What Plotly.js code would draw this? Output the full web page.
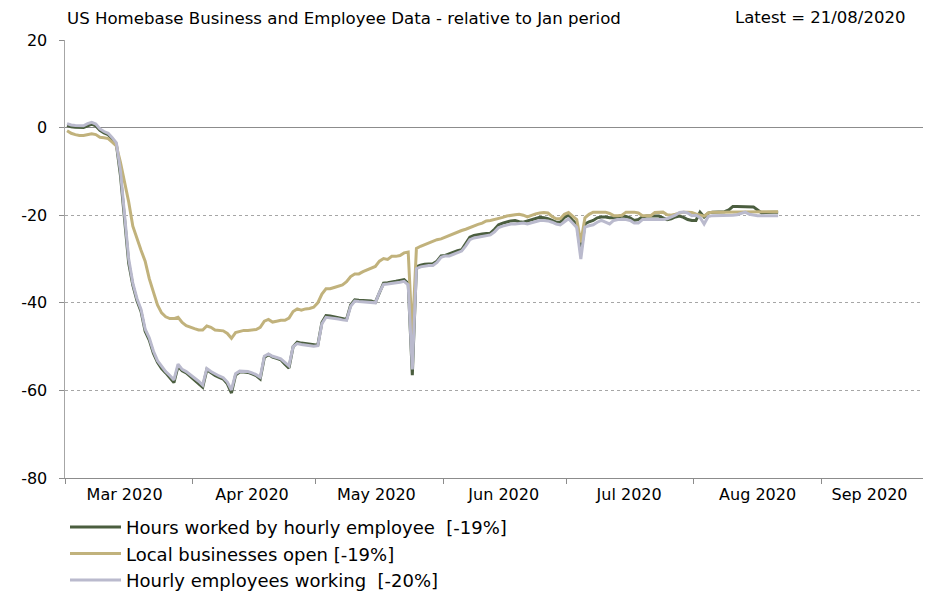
<!DOCTYPE html>
<html>
<head>
<meta charset="utf-8">
<script src="https://cdn.plot.ly/plotly-3.0.1.min.js"></script>
<style>html,body{margin:0;padding:0;background:#fff}#chart{width:937px;height:592px}</style>
</head>
<body>
<div id="chart"></div>
<script>
// Daily observations, first day 2020-03-01, latest 2020-08-21
const startDate = [2020, 3, 1];

const hoursWorked = [
 0.5, 0.2, 0.1, 0.0, 0.0, 0.4, 0.8, 0.4, -0.6, -1.2,
 -1.6, -2.6, -3.8, -11, -22, -31, -36, -39.5, -42, -46.5,
 -48.5, -51.5, -53.6, -55, -56, -57, -58.2, -54.5, -55.5, -56,
 -56.8, -57.5, -58.3, -59.3, -55.3, -56, -56.6, -57, -57.4, -58.5,
 -60.6, -56.5, -55.8, -55.8, -55.9, -56.2, -56.6, -57.4, -52.5, -51.8,
 -52.4, -52.7, -53, -54, -54.9, -50, -49, -49.2, -49.3, -49.5,
 -49.6, -49.7, -44.5, -42.9, -43, -43.2, -43.3, -43.5, -43.8, -40.5,
 -39.3, -39.4, -39.5, -39.5, -39.6, -39.9, -37.5, -35.5, -35.4, -35.3,
 -35.1, -34.9, -34.7, -35.6, -56.5, -31.8, -31.4, -31.2, -31.1, -31.1,
 -30.5, -29.3, -29.2, -28.8, -28.4, -28.1, -27.9, -26.5, -25, -24.6,
 -24.4, -24.3, -24.2, -24.1, -23.2, -22.2, -21.8, -21.5, -21.3, -21.2,
 -21.5, -21.6, -21.3, -21, -20.7, -20.5, -20.6, -20.8, -21.2, -21.6,
 -21.6, -20.5, -20.0, -21.2, -22, -28.5, -22, -21.5, -21.2, -20.6,
 -20.4, -20.4, -20.6, -20.6, -20.4, -20.2, -20.3, -20.6, -21.2, -21,
 -20.4, -20.2, -20.2, -20.2, -20.2, -20.6, -21, -20.8, -20.4, -20.2,
 -20.5, -21, -21.2, -21.2, -19.3, -20.4, -19.5, -19.3, -19.3, -19.2,
 -19.2, -18.8, -18, -18, -18, -18, -18, -18.1, -18.8, -19.5,
 -19.4, -19.3, -19.3, -19.3
];

const businessesOpen = [
 -0.7, -1.3, -1.6, -1.8, -1.8, -1.6, -1.4, -1.6, -2.2, -2.3,
 -2.5, -3.3, -4.2, -8, -12.5, -17, -22.5, -25.5, -28, -30.5,
 -34.5, -37.5, -40.5, -42.3, -43.2, -43.6, -43.6, -43.3, -44.5, -45.2,
 -45.6, -45.9, -46.2, -46.2, -45.3, -45.6, -46.2, -46.3, -46.4, -47,
 -48.1, -46.8, -46.6, -46.3, -46.3, -46.2, -46.1, -45.6, -44.2, -43.8,
 -44.4, -44.2, -44, -44, -43.5, -42, -41.4, -41.7, -41.4, -41.3,
 -41, -40, -38, -36.8, -36.8, -36.5, -36.2, -35.9, -35.2, -34,
 -33.4, -33.4, -32.9, -32.5, -32.2, -31.7, -30.5, -29.9, -30.1, -29.4,
 -29.4, -29.2, -28.6, -28.4, -47.5, -27.6, -27.1, -26.7, -26.4, -26,
 -25.6, -25.4, -25, -24.6, -24.2, -23.9, -23.5, -23.2, -22.8, -22.5,
 -22.1, -21.8, -21.3, -21.2, -21, -20.8, -20.5, -20.2, -20, -19.9,
 -19.8, -20, -20.4, -20, -19.7, -19.5, -19.4, -19.5, -20.3, -20.8,
 -20.8, -19.8, -19.4, -20.2, -21, -26.2, -20.6, -19.8, -19.3, -19.3,
 -19.3, -19.3, -19.6, -20.1, -20.1, -20, -19.3, -19.3, -19.3, -19.5,
 -20.1, -20.1, -20.1, -19.4, -19.3, -19.3, -19.9, -20, -19.8, -19.5,
 -19.3, -19.3, -19.4, -19.7, -20, -20.2, -19.5, -19.3, -19.3, -19.3,
 -19.3, -19.3, -19.3, -19.3, -19.2, -19.2, -19.2, -19.2, -19.3, -19.3,
 -19.3, -19.2, -19.2, -19.2
];

const employeesWorking = [
 0.9, 0.6, 0.5, 0.4, 0.4, 0.9, 1.2, 0.8, -0.3, -0.9,
 -1.3, -2.3, -3.5, -10, -21, -30, -35.5, -39, -41.5, -46,
 -48, -51, -53.2, -54.6, -55.7, -56.6, -57.6, -54, -55.2, -55.7,
 -56.4, -57.1, -57.9, -58.8, -55, -55.7, -56.3, -56.7, -57.1, -58.1,
 -59.9, -56.2, -55.6, -55.6, -55.7, -56, -56.4, -57, -52.2, -51.7,
 -52.2, -52.5, -52.8, -53.6, -54.4, -50, -49.3, -49.5, -49.6, -49.8,
 -49.9, -49.8, -44.8, -43.3, -43.4, -43.6, -43.7, -43.9, -44, -40.8,
 -39.6, -39.7, -39.8, -39.8, -39.9, -40, -37.6, -35.8, -35.7, -35.6,
 -35.4, -35.3, -35.1, -35.9, -55.2, -32.2, -31.8, -31.6, -31.5, -31.5,
 -30.8, -29.6, -29.3, -29.3, -28.9, -28.5, -28.2, -27, -25.6, -25.2,
 -25, -24.9, -24.7, -24.5, -23.8, -22.8, -22.5, -22.3, -22, -22,
 -21.9, -21.8, -22, -21.7, -21.4, -21.2, -21.2, -21.3, -21.6, -22,
 -22.2, -21.5, -20.8, -21.8, -22.8, -30, -22.7, -22.4, -22.2, -21.6,
 -21.2, -21.6, -22, -21.2, -21, -21, -21, -21.2, -21.8, -21.8,
 -21, -21, -21, -21, -21, -21, -20.8, -20.4, -20, -19.4,
 -19.3, -19.5, -20.1, -20, -20.5, -22, -20.3, -20.1, -20.1, -20.1,
 -20.1, -20.1, -20, -19.9, -19.6, -19.3, -19.8, -20, -20.1, -20.1,
 -20.1, -20.1, -20.1, -20.1
];

const seriesNames = [
  'Hours worked by hourly employee \u00a0[-19%]',
  'Local businesses open [-19%]',
  'Hourly employees working \u00a0[-20%]'
];
const monthLabels = ['Mar 2020', 'Apr 2020', 'May 2020', 'Jun 2020', 'Jul 2020', 'Aug 2020', 'Sep 2020'];
const monthLabelDates = ['2020-03-15 12:00', '2020-04-15 12:00', '2020-05-15 18:00', '2020-06-15 18:00',
                         '2020-07-16 06:00', '2020-08-16 12:00', '2020-09-12 18:00'];
const yTicks = [-80, -60, -40, -20, 0, 20];
const chartTitle = 'US Homebase Business and Employee Data - relative to Jan period';
const latestNote = 'Latest = 21/08/2020';

function pad(n){ return (n < 10 ? '0' : '') + n; }
const dates = hoursWorked.map((_, i) => {
  const d = new Date(Date.UTC(startDate[0], startDate[1] - 1, startDate[2] + i));
  return d.getUTCFullYear() + '-' + pad(d.getUTCMonth() + 1) + '-' + pad(d.getUTCDate()) + ' 12:00';
});

const colors = ['#4b5e3f', '#c1b27c', '#babacd'];
const values = [hoursWorked, businessesOpen, employeesWorking];
const FONT = 'DejaVu Sans, sans-serif';

const traces = values.map((v, k) => ({
  type: 'scatter', mode: 'lines', x: dates, y: v, name: seriesNames[k],
  line: {color: colors[k], width: 3}, hoverinfo: 'skip'
}));

const layout = {
  width: 937, height: 592,
  margin: {l: 65, r: 14, t: 40, b: 114, autoexpand: false},
  paper_bgcolor: '#fff', plot_bgcolor: '#fff',
  font: {family: FONT, size: 16, color: '#000'},
  title: {text: chartTitle, x: 67/937, xanchor: 'left', xref: 'container',
          y: 1 - 18/592, yanchor: 'middle', yref: 'container',
          font: {family: FONT, size: 16.6, color: '#000'}},
  showlegend: true,
  legend: {orientation: 'v', x: 0.0, xanchor: 'left', y: -0.0705, yanchor: 'top',
           font: {family: FONT, size: 18, color: '#000'}, itemwidth: 51,
           tracegroupgap: 0, bgcolor: 'rgba(0,0,0,0)', traceorder: 'normal'},
  xaxis: {type: 'date', range: ['2020-03-01', '2020-09-25 18:00'],
          tickmode: 'array', tickvals: monthLabelDates, ticktext: monthLabels,
          ticks: 'outside', ticklen: 2, tickcolor: 'rgba(0,0,0,0)',
          minor: {tick0: '2020-03-01', dtick: 'M1', ticks: 'outside', ticklen: 5,
                  tickcolor: '#8c8c8c', tickwidth: 1, showgrid: false},
          showline: true, linecolor: '#8c8c8c', linewidth: 1,
          showgrid: false, zeroline: false, fixedrange: true, automargin: false,
          tickfont: {family: FONT, size: 16, color: '#000'}},
  yaxis: {range: [-80, 20], tickvals: yTicks, ticktext: yTicks.map(String),
          ticks: 'outside', ticklen: 5, tickcolor: '#8c8c8c', tickwidth: 1,
          ticklabelstandoff: 8, automargin: false,
          showline: true, linecolor: '#a6a6a6', linewidth: 1.5,
          showgrid: true, gridcolor: '#a6a6a6', griddash: 'dot', gridwidth: 1,
          zeroline: true, zerolinecolor: '#8c8c8c', zerolinewidth: 1,
          fixedrange: true, tickfont: {family: FONT, size: 16, color: '#000'}},
  annotations: [{text: latestNote, xref: 'paper', yref: 'paper',
                 x: (907-65)/858, xanchor: 'right', y: (478-18)/438, yanchor: 'middle',
                 showarrow: false, font: {family: FONT, size: 16.5, color: '#000'}}]
};

Plotly.newPlot('chart', traces, layout, {staticPlot: true, displayModeBar: false});
</script>
</body>
</html>
